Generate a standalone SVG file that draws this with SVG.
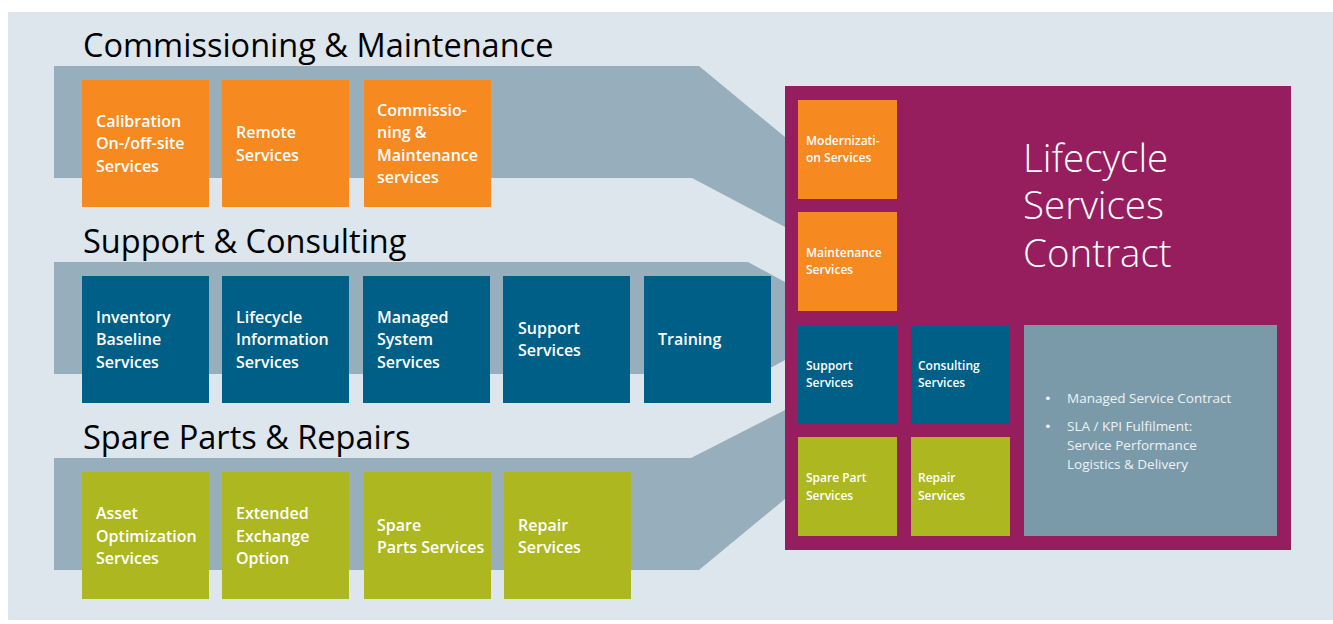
<svg xmlns="http://www.w3.org/2000/svg" width="1333" height="624" viewBox="0 0 1333 624">
<style>
.band{fill:#97afbc}
.or{fill:#f68920}
.bl{fill:#005f87}
.lm{fill:#adb820}
.lbl{font-family:"Open Sans","Noto Sans",sans-serif;font-weight:600;font-size:16px;fill:#ffffff}
.sm{font-family:"Open Sans","Noto Sans",sans-serif;font-weight:600;font-size:12px;fill:#ffffff}
.hd{font-family:"Open Sans","Noto Sans",sans-serif;font-weight:400;font-size:32.5px;fill:#000000}
.big{font-family:"Open Sans","Noto Sans",sans-serif;font-weight:300;font-size:38.5px;fill:#ffffff}
.bul{font-family:"Open Sans","Noto Sans",sans-serif;font-weight:400;font-size:13.5px;fill:#eef2f5}
.dot{font-family:"DejaVu Sans",sans-serif;font-size:13px;fill:#eef2f5}
</style>
<rect x="0" y="0" width="1333" height="624" fill="#ffffff"/>
<rect x="8" y="12" width="1325" height="608" fill="#dde6ec"/>
<g id="connectors">
<polygon class="band" points="54,66 699,66 785,137 785,227 692,178 54,178"/>
<polygon class="band" points="54,262 748,262 785,282 785,360 759,374 54,374"/>
<polygon class="band" points="54,458 691,458 785,410 785,499 699,570 54,570"/>
</g>
<g id="headings">
<text class="hd" x="83" y="57">Commissioning &amp; Maintenance</text>
<text class="hd" x="83" y="253">Support &amp; Consulting</text>
<text class="hd" x="83" y="449">Spare Parts &amp; Repairs</text>
</g>
<g id="calibration"><rect class="or" x="82" y="80" width="127" height="127"/>
<text class="lbl" x="96" y="127">Calibration</text><text class="lbl" x="96" y="149">On-/off-site</text><text class="lbl" x="96" y="172">Services</text></g>
<g id="remote"><rect class="or" x="222" y="80" width="127" height="127"/>
<text class="lbl" x="236" y="138">Remote</text><text class="lbl" x="236" y="161">Services</text></g>
<g id="commissioning"><rect class="or" x="364" y="80" width="127" height="127"/>
<text class="lbl" x="377" y="116">Commissio-</text><text class="lbl" x="377" y="138">ning &amp;</text><text class="lbl" x="377" y="161">Maintenance</text><text class="lbl" x="377" y="183">services</text></g>
<g id="inventory"><rect class="bl" x="82" y="276" width="127" height="127"/>
<text class="lbl" x="96" y="323">Inventory</text><text class="lbl" x="96" y="345">Baseline</text><text class="lbl" x="96" y="368">Services</text></g>
<g id="lifecycle-info"><rect class="bl" x="222" y="276" width="127" height="127"/>
<text class="lbl" x="236" y="323">Lifecycle</text><text class="lbl" x="236" y="345">Information</text><text class="lbl" x="236" y="368">Services</text></g>
<g id="managed"><rect class="bl" x="363" y="276" width="127" height="127"/>
<text class="lbl" x="377" y="323">Managed</text><text class="lbl" x="377" y="345">System</text><text class="lbl" x="377" y="368">Services</text></g>
<g id="support"><rect class="bl" x="503" y="276" width="127" height="127"/>
<text class="lbl" x="518" y="334">Support</text><text class="lbl" x="518" y="356">Services</text></g>
<g id="training"><rect class="bl" x="644" y="276" width="127" height="127"/>
<text class="lbl" x="658" y="345">Training</text></g>
<g id="asset"><rect class="lm" x="82" y="472" width="127" height="127"/>
<text class="lbl" x="96" y="519">Asset</text><text class="lbl" x="96" y="542">Optimization</text><text class="lbl" x="96" y="564">Services</text></g>
<g id="extended"><rect class="lm" x="222" y="472" width="127" height="127"/>
<text class="lbl" x="236" y="519">Extended</text><text class="lbl" x="236" y="542">Exchange</text><text class="lbl" x="236" y="564">Option</text></g>
<g id="spare"><rect class="lm" x="364" y="472" width="127" height="127"/>
<text class="lbl" x="377" y="531">Spare</text><text class="lbl" x="377" y="553">Parts Services</text></g>
<g id="repair"><rect class="lm" x="504" y="472" width="127" height="127"/>
<text class="lbl" x="518" y="531">Repair</text><text class="lbl" x="518" y="553">Services</text></g>
<g id="contract">
<rect x="785" y="86" width="506" height="464" fill="#961e5e"/>
<text class="big" x="1023" y="172">Lifecycle</text>
<text class="big" x="1023" y="219">Services</text>
<text class="big" x="1023" y="267">Contract</text>
</g>
<g id="modernization"><rect class="or" x="798" y="100" width="99" height="99"/>
<text class="sm" x="806" y="145">Modernizati-</text><text class="sm" x="806" y="162">on Services</text></g>
<g id="maintenance"><rect class="or" x="798" y="212" width="99" height="99"/>
<text class="sm" x="806" y="257">Maintenance</text><text class="sm" x="806" y="274">Services</text></g>
<g id="support-s"><rect class="bl" x="798" y="325" width="99" height="99"/>
<text class="sm" x="806" y="370">Support</text><text class="sm" x="806" y="387">Services</text></g>
<g id="consulting"><rect class="bl" x="911" y="325" width="99" height="99"/>
<text class="sm" x="918" y="370">Consulting</text><text class="sm" x="918" y="387">Services</text></g>
<g id="spare-s"><rect class="lm" x="798" y="437" width="99" height="99"/>
<text class="sm" x="806" y="482">Spare Part</text><text class="sm" x="806" y="500">Services</text></g>
<g id="repair-s"><rect class="lm" x="911" y="437" width="99" height="99"/>
<text class="sm" x="918" y="482">Repair</text><text class="sm" x="918" y="500">Services</text></g>
<g id="managed-contract"><rect x="1024" y="325" width="253" height="211" fill="#7a9aa9"/>
<text class="dot" x="1044" y="403">•</text><text class="bul" x="1067" y="403">Managed Service Contract</text>
<text class="dot" x="1044" y="431">•</text><text class="bul" x="1067" y="431">SLA / KPI Fulfilment:</text>
<text class="bul" x="1067" y="450">Service Performance</text>
<text class="bul" x="1067" y="469">Logistics &amp; Delivery</text>
</g>
</svg>
